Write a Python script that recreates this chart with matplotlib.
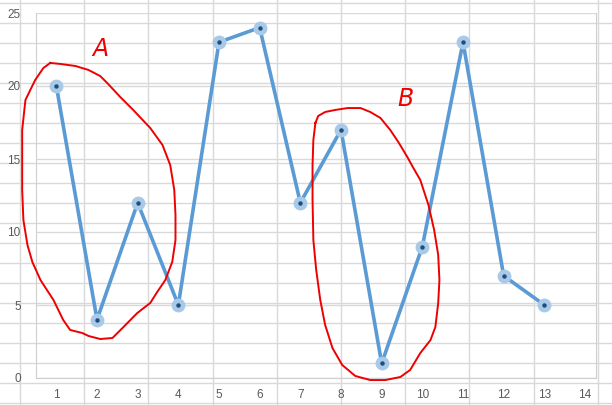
import numpy as np
import matplotlib.pyplot as plt

# series
x_vals = [1, 2, 3, 4, 5, 6, 7, 8, 9, 10, 11, 12, 13]
y_vals = [20, 4, 12, 5, 23, 24, 12, 17, 1, 9, 23, 7, 5]
x_ticks = list(range(1, 15))
y_ticks = [0, 5, 10, 15, 20, 25]

# hand-drawn red outlines (data units)
loop_a_x = [0.85, 1.10, 1.47, 1.79, 2.08, 2.25, 2.57, 2.89, 3.31, 3.61, 3.80, 3.90, 3.93, 3.93,
            3.85, 3.68, 3.48, 3.31, 2.99, 2.65, 2.38, 2.08, 1.79, 1.64, 1.34, 1.17, 0.93, 0.61,
            0.41, 0.29, 0.19, 0.16, 0.16, 0.16, 0.24, 0.36, 0.48, 0.68, 0.85]
loop_a_y = [21.58, 21.51, 21.37, 21.10, 20.68, 20.21, 19.25, 18.36, 17.12, 15.96, 14.59, 12.88,
            11.16, 9.45, 7.95, 6.71, 5.89, 5.14, 4.45, 3.49, 2.74, 2.67, 2.88, 3.08, 3.29, 3.97,
            5.34, 6.71, 7.95, 9.11, 10.82, 12.88, 14.93, 16.99, 19.04, 19.73, 20.41, 21.23, 21.58]
loop_b_x = [7.37, 7.44, 7.61, 7.86, 8.16, 8.48, 8.72, 8.97, 9.21, 9.41, 9.63, 9.78, 9.95, 10.15,
            10.29, 10.39, 10.42, 10.39, 10.32, 10.20, 9.95, 9.70, 9.46, 9.09, 8.72, 8.35, 8.03,
            7.79, 7.61, 7.49, 7.39, 7.32, 7.30, 7.30, 7.32, 7.37]
loop_b_y = [17.47, 17.95, 18.22, 18.36, 18.49, 18.49, 18.22, 17.81, 16.99, 16.16, 15.14, 14.38,
            13.56, 11.85, 10.14, 8.42, 6.71, 5.14, 3.49, 2.60, 1.71, 0.55, 0.07, -0.14, -0.14,
            0.14, 0.89, 2.05, 3.63, 5.34, 7.40, 9.45, 12.19, 14.59, 16.30, 17.47]
labels = ["A", "B"]
label_x = [2.08, 9.58]
label_y = [22.5, 19.1]

W, H = 612, 405
fig = plt.figure(figsize=(W / 100, H / 100), dpi=100)

# spreadsheet cell grid showing through the transparent chart
bg = fig.add_axes([0, 0, 1, 1])
bg.set_xlim(0, W)
bg.set_ylim(H, 0)
bg.axis("off")
for cx in np.arange(20, W, 64.2):
    bg.axvline(cx, color="#d9d9d9", lw=1)
for ry in np.arange(3, H, 20):
    bg.axhline(ry, color="#d9d9d9", lw=1)

ax = fig.add_axes([36 / W, 1 - 378 / H, (596 - 36) / W, (378 - 13) / H])
ax.patch.set_alpha(0)
ax.set_xlim(0.5, 14.27)
ax.set_ylim(0, 25)
ax.set_xticks(x_ticks)
ax.set_yticks(y_ticks)
ax.tick_params(length=0, colors="#595959", labelsize=8.5)
ax.tick_params(axis="y", pad=11)
ax.tick_params(axis="x", pad=8)
for lab in ax.get_xticklabels() + ax.get_yticklabels():
    lab.set_family("Liberation Sans")
ax.grid(axis="y", color="#d9d9d9", lw=1)
ax.set_axisbelow(True)
ax.spines["top"].set_visible(False)
for side in ["left", "right", "bottom"]:
    ax.spines[side].set_color("#cfcfcf")

ax.plot(x_vals, y_vals, color="#5b9bd5", lw=2.6, zorder=3)
ax.plot(x_vals, y_vals, ls="none", marker="o", ms=10, mfc="#a9c9e8", mec="none", zorder=4)
ax.plot(x_vals, y_vals, ls="none", marker="o", ms=3.2, mfc="#1f4e79", mec="none", zorder=5)

ax.plot(loop_a_x, loop_a_y, color="#ee0000", lw=1.4, clip_on=False, zorder=6)
ax.plot(loop_b_x, loop_b_y, color="#ee0000", lw=1.4, clip_on=False, zorder=6)
for t, lx, ly in zip(labels, label_x, label_y):
    ax.text(lx, ly, t, color="#ee0000", fontsize=17, style="italic", fontweight="light",
            ha="center", va="center", zorder=6)

fig.savefig("out.png", dpi=100)
plt.close(fig)
